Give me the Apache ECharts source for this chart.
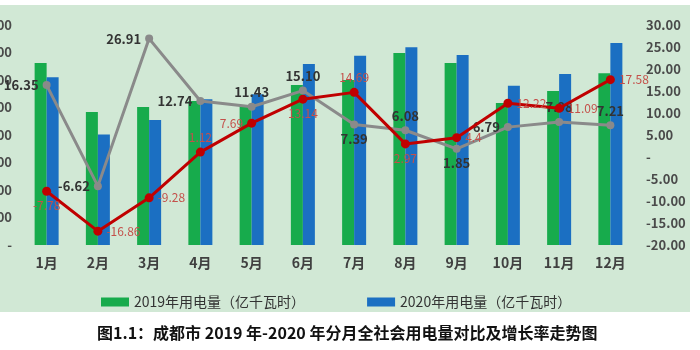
<!DOCTYPE html>
<html>
<head>
<meta charset="utf-8">
<script src="https://cdn.jsdelivr.net/npm/echarts@6/dist/echarts.min.js"></script>
<style>html,body{margin:0;padding:0;background:#fff}#c{width:700px;height:350px}</style>
</head>
<body>
<div id="c"></div>
<script>
const categories = ['1月','2月','3月','4月','5月','6月','7月','8月','9月','10月','11月','12月'];
const use2019 = [66.2, 48.4, 50.2, 52.4, 50.9, 58.2, 60.0, 69.8, 66.2, 51.6, 56.0, 62.5];
const use2020 = [61.0, 40.2, 45.5, 53.0, 54.8, 65.8, 68.8, 71.9, 69.1, 57.9, 62.2, 73.5];
const growth2019 = [16.35, -6.62, 26.91, 12.74, 11.43, 15.10, 7.39, 6.08, 1.85, 6.79, 7.98, 7.21];
const growth2020 = [-7.78, -16.86, -9.28, 1.12, 7.69, 13.14, 14.69, 2.97, 4.4, 12.22, 11.09, 17.58];
const leftTicks = [0, 10, 20, 30, 40, 50, 60, 70, 80];
const rightTicks = [-20, -15, -10, -5, 0, 5, 10, 15, 20, 25, 30];

const greyPos = ['left','left','left','left','top','top','bottom','top','bottom','left','top','top'];
const redPos = ['bottom','right','right','top','left','bottom','top','bottom','right','right','right','right'];

const FONT = '"Noto Sans CJK SC", "Noto Sans", sans-serif';
const chart = echarts.init(document.getElementById('c'));
const fmtAcc = v => v === 0 ? '-' : v.toFixed(2);

chart.setOption({
  animation: false,
  backgroundColor: '#ffffff',
  textStyle: { fontFamily: FONT },
  graphic: [{
    type: 'rect', z: -10, silent: true,
    shape: { x: 0, y: 5, width: 690, height: 307 },
    style: { fill: '#d1e8d5' }
  }],
  title: {
    text: '图1.1：成都市 2019 年-2020 年分月全社会用电量对比及增长率走势图',
    left: 92, top: 320,
    textStyle: { fontSize: 16, fontWeight: 'bold', color: '#111', fontFamily: FONT }
  },
  legend: {
    data: ['2019年用电量（亿千瓦时）', '2020年用电量（亿千瓦时）'],
    left: 96, top: 290,
    itemWidth: 28, itemHeight: 9, itemGap: 62,
    icon: 'rect',
    textStyle: { fontSize: 14, color: '#333', fontFamily: FONT }
  },
  grid: { left: 21, right: 64, top: 25, bottom: 105, containLabel: false, outerBoundsMode: 'none' },
  xAxis: {
    type: 'category', data: categories,
    axisLine: { show: false }, axisTick: { show: false },
    axisLabel: { fontSize: 14, color: '#404040', fontWeight: 'bold', margin: 11, fontFamily: FONT }
  },
  yAxis: [{
    type: 'value', min: leftTicks[0], max: leftTicks[leftTicks.length - 1], interval: 10,
    splitLine: { show: false }, axisLine: { show: false }, axisTick: { show: false },
    axisLabel: { fontSize: 13, color: '#4a4a4a', fontWeight: 'bold', margin: 9, formatter: fmtAcc }
  }, {
    type: 'value', min: rightTicks[0], max: rightTicks[rightTicks.length - 1], interval: 5,
    splitLine: { show: false }, axisLine: { show: false }, axisTick: { show: false },
    axisLabel: { fontSize: 13, color: '#4a4a4a', fontWeight: 'bold', margin: 10, formatter: fmtAcc }
  }],
  series: [{
    name: '2019年用电量（亿千瓦时）', type: 'bar', data: use2019,
    barWidth: 12, barGap: '0%',
    itemStyle: { color: '#17ab4c' }
  }, {
    name: '2020年用电量（亿千瓦时）', type: 'bar', data: use2020,
    barWidth: 12,
    itemStyle: { color: '#1b6fc2' }
  }, {
    name: '2019增长率', type: 'line', yAxisIndex: 1, z: 3,
    data: growth2019.map((v, i) => ({ value: v, label: { position: greyPos[i] } })),
    symbol: 'circle', symbolSize: 8,
    lineStyle: { color: '#8a8a8a', width: 3 },
    itemStyle: { color: '#8a8a8a' },
    label: { show: true, fontSize: 13, color: '#333', fontWeight: 'bold', distance: 4,
      formatter: p => p.value.toFixed(2) }
  }, {
    name: '2020增长率', type: 'line', yAxisIndex: 1, z: 4,
    data: growth2020.map((v, i) => ({ value: v, label: { position: redPos[i] } })),
    symbol: 'circle', symbolSize: 9,
    lineStyle: { color: '#c00000', width: 3 },
    itemStyle: { color: '#c00000' },
    label: { show: true, fontSize: 12, color: '#c4504a', distance: 4,
      formatter: p => String(p.value) }
  }]
});
</script>
</body>
</html>
